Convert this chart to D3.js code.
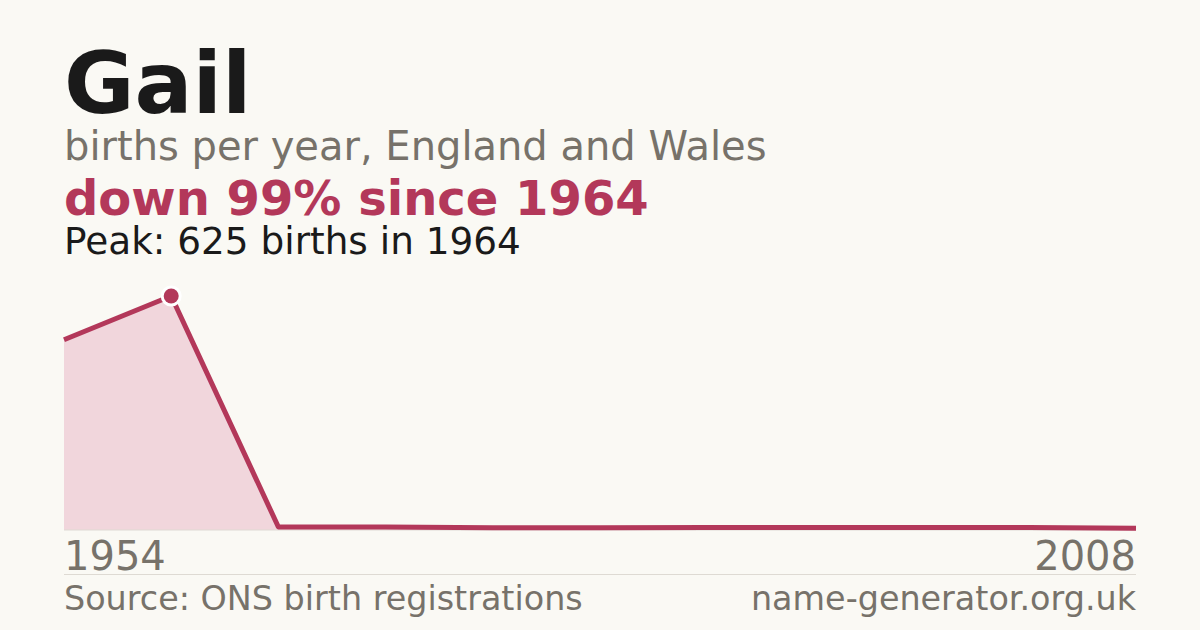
<!DOCTYPE html>
<html>
<head>
<meta charset="utf-8">
<script src="https://cdn.jsdelivr.net/npm/d3@7"></script>
<style>
  body { margin: 0; background: #faf9f4; }
  svg { display: block; font-family: "DejaVu Sans", sans-serif; }
</style>
</head>
<body>
<script>
const w = 1200;
const h = 630;

// data (points are evenly spaced)
const years = [1954, 1964, 1974, 1979, 1984, 1989, 1994, 1999, 2002, 2005, 2008];
const births = [508, 625, 8, 8, 6, 6, 7, 7, 7, 7, 5];
const peakYear = 1964;
const peakValue = 625;

const red = "#b3385a";
const grey = "#77726a";

const svg = d3.select("body").append("svg")
	.attr("width", w)
	.attr("height", h);

svg.append("rect").attr("width", w).attr("height", h).attr("fill", "#faf9f4");

const x = d3.scalePoint()
	.domain(years)
	.range([64, 1136]);

const y = d3.scaleLinear()
	.domain([0, peakValue])
	.range([530, 296]);

// titles
svg.append("text").attr("x", 64).attr("y", 113)
	.attr("font-size", 86).attr("font-weight", "bold").attr("fill", "#1a1a1a")
	.text("Gail");
svg.append("text").attr("x", 64).attr("y", 160)
	.attr("font-size", 40).attr("fill", grey)
	.text("births per year, England and Wales");
svg.append("text").attr("x", 64).attr("y", 215)
	.attr("font-size", 48).attr("font-weight", "bold").attr("fill", red)
	.text("down " + Math.round((1 - births[births.length - 1] / peakValue) * 100) + "% since " + peakYear);
svg.append("text").attr("x", 64).attr("y", 254)
	.attr("font-size", 37.4).attr("fill", "#1a1a1a")
	.text("Peak: " + peakValue + " births in " + peakYear);

// area + line
const area = d3.area()
	.x((d, i) => x(years[i]))
	.y0(y(0))
	.y1(d => y(d));

const line = d3.line()
	.x((d, i) => x(years[i]))
	.y(d => y(d));

svg.append("path")
	.datum(births)
	.attr("d", area)
	.attr("fill", "#f1d6dc");

svg.append("line")
	.attr("x1", 64).attr("x2", 1136)
	.attr("y1", y(0)).attr("y2", y(0))
	.attr("stroke", "#dedad3").attr("stroke-width", 1);

svg.append("path")
	.datum(births)
	.attr("d", line)
	.attr("fill", "none")
	.attr("stroke", red)
	.attr("stroke-width", 5)
	.attr("stroke-linejoin", "round");

svg.append("circle")
	.attr("cx", x(peakYear))
	.attr("cy", y(peakValue))
	.attr("r", 7.5)
	.attr("fill", red)
	.attr("stroke", "#ffffff")
	.attr("stroke-width", 6)
	.attr("paint-order", "stroke");

// x end labels
svg.append("text").attr("x", 64).attr("y", 570)
	.attr("font-size", 40).attr("fill", grey)
	.text(years[0]);
svg.append("text").attr("x", 1136).attr("y", 570)
	.attr("font-size", 40).attr("fill", grey).attr("text-anchor", "end")
	.text(years[years.length - 1]);

svg.append("line")
	.attr("x1", 64).attr("x2", 1136)
	.attr("y1", 574.5).attr("y2", 574.5)
	.attr("stroke", "#dedad3").attr("stroke-width", 1);

svg.append("text").attr("x", 64).attr("y", 610)
	.attr("font-size", 33.4).attr("fill", grey)
	.text("Source: ONS birth registrations");
svg.append("text").attr("x", 1136).attr("y", 610)
	.attr("font-size", 33.4).attr("fill", grey).attr("text-anchor", "end")
	.text("name-generator.org.uk");
</script>
</body>
</html>
